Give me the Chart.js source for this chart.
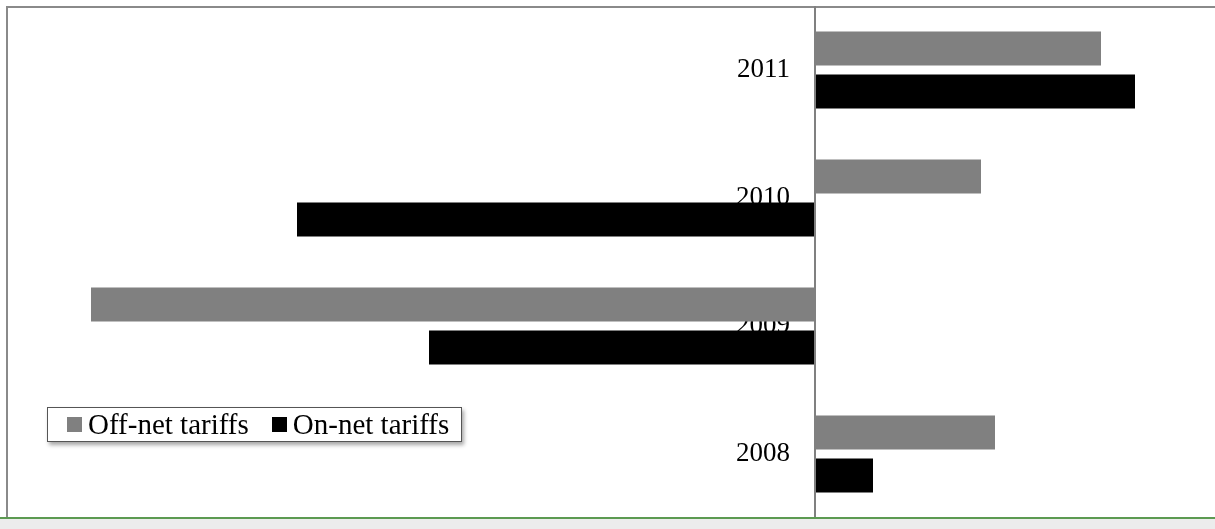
<!DOCTYPE html>
<html>
<head>
<meta charset="utf-8">
<script src="https://cdn.jsdelivr.net/npm/chart.js@4/dist/chart.umd.min.js"></script>
<style>
  html, body { margin: 0; padding: 0; background: #ffffff; }
  body { width: 1215px; height: 529px; position: relative; overflow: hidden; }
  #frame {
    position: absolute; left: 6px; top: 6px; width: 1215px; height: 512px;
    border-left: 2px solid #8a8a8a; border-top: 2px solid #8a8a8a;
  }
  #base {
    position: absolute; left: 0; top: 517px; width: 1215px; height: 12px;
    background: #ececec; border-top: 2px solid #5c9a52;
  }
  #wrap { position: absolute; left: 15px; top: 6px; width: 1200px; height: 512px; }
  #legend {
    position: absolute; left: 47px; top: 407px; height: 33px;
    padding: 0 12px 0 19px; background: #fff;
    border: 1px solid #555; box-shadow: 2px 3px 4px rgba(0, 0, 0, 0.35);
    display: flex; align-items: center;
    font-family: "Liberation Serif", "Times New Roman", serif; font-size: 29px; color: #000;
  }
  #legend span.item { display: flex; align-items: center; margin-right: 23px; }
  #legend span.item:last-child { margin-right: 0; }
  #legend span.box { width: 15px; height: 15px; margin-right: 6px; }
</style>
</head>
<body>
<div id="frame"></div>
<div id="wrap"><canvas id="tariffChart"></canvas></div>
<div id="base"></div>
<div id="legend"></div>
<script>
const years = ["2011", "2010", "2009", "2008"];
const offNetTariffs = [14.3, 8.3, -36.2, 9.0];
const onNetTariffs = [16.0, -25.9, -19.3, 2.9];

// year labels sit this far left of the zero line (in x units)
const LABEL_GAP = 1.25;

const ctx = document.getElementById("tariffChart").getContext("2d");

const tariffChart = new Chart(ctx, {
  type: "bar",
  data: {
    labels: years,
    datasets: [
      {
        label: "Off-net tariffs",
        data: offNetTariffs,
        backgroundColor: "#808080",
        categoryPercentage: 0.67,
        barPercentage: 0.79,
      },
      {
        label: "On-net tariffs",
        data: onNetTariffs,
        backgroundColor: "#000000",
        categoryPercentage: 0.67,
        barPercentage: 0.79,
      },
    ],
  },
  options: {
    indexAxis: "y",
    responsive: true,
    maintainAspectRatio: false,
    animation: false,
    layout: { padding: 0 },
    plugins: {
      legend: { display: false },
      tooltip: { enabled: false },
    },
    scales: {
      x: {
        min: -40,
        max: 20,
        ticks: { display: false, stepSize: 20 },
        border: { display: false },
        grid: {
          drawTicks: false,
          lineWidth: 2,
          // only the zero line is visible
          color: (c) => (c.tick && c.tick.value === 0 ? "#808080" : "rgba(0,0,0,0)"),
        },
      },
      y: {
        position: { x: -LABEL_GAP },
        grid: { display: false },
        border: { display: false },
        ticks: {
          padding: 0,
          color: "#000",
          font: { family: "'Liberation Serif', 'Times New Roman', serif", size: 27 },
        },
        afterFit: (scale) => {
          scale.paddingTop = 0;
          scale.paddingBottom = 0;
        },
      },
    },
  },
});

// legend built from the chart's own datasets
const legendEl = document.getElementById("legend");
tariffChart.data.datasets.forEach((ds) => {
  const item = document.createElement("span");
  item.className = "item";
  const box = document.createElement("span");
  box.className = "box";
  box.style.background = ds.backgroundColor;
  item.appendChild(box);
  item.appendChild(document.createTextNode(ds.label));
  legendEl.appendChild(item);
});
</script>
</body>
</html>
